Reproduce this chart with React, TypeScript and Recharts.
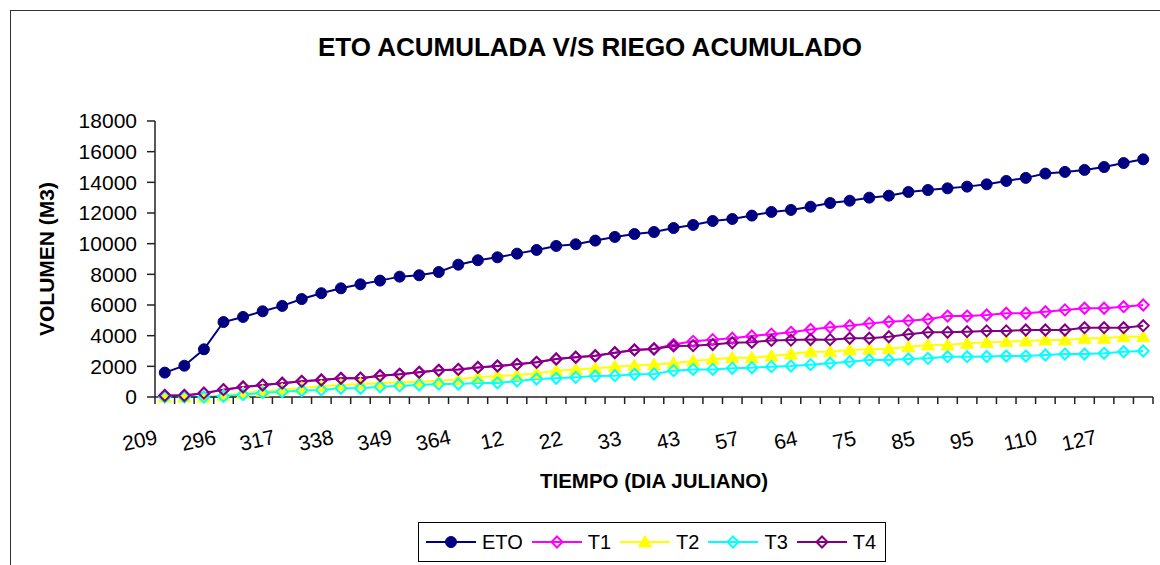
import React from 'react';
import { LineChart, Line, XAxis, YAxis, Legend } from 'recharts';

// ---------- data ----------
const dayLabels = ['209', '296', '317', '338', '349', '364', '12', '22', '33', '43', '57', '64', '75', '85', '95', '110', '127'];
const LABEL_EVERY = 3;

const etoValues = [
  1590, 2040, 3110, 4890, 5220, 5590, 5940, 6390, 6770, 7090,
  7350, 7590, 7850, 7940, 8150, 8630, 8920, 9110, 9350, 9590,
  9850, 9960, 10200, 10440, 10630, 10760, 11020, 11220, 11480, 11610,
  11830, 12070, 12200, 12410, 12650, 12800, 13000, 13130, 13370, 13500,
  13610, 13720, 13870, 14090, 14290, 14570, 14680, 14810, 15000, 15260,
  15500,
];
const t1Values = [
  100, 100, 250, 480, 650, 780, 900, 1020, 1110, 1220,
  1230, 1390, 1480, 1610, 1740, 1800, 1930, 2020, 2130, 2260,
  2480, 2590, 2690, 2890, 3070, 3150, 3420, 3630, 3740, 3830,
  3980, 4100, 4220, 4400, 4550, 4650, 4800, 4910, 4980, 5070,
  5280, 5280, 5350, 5460, 5460, 5560, 5680, 5790, 5790, 5890,
  6000,
];
const t2Values = [
  0, 0, 0, 100, 250, 380, 480, 580, 700, 780,
  850, 890, 960, 1000, 1060, 1150, 1300, 1370, 1430, 1540,
  1720, 1800, 1870, 1980, 2050, 2120, 2200, 2350, 2460, 2560,
  2560, 2670, 2800, 2950, 2950, 3070, 3110, 3150, 3280, 3390,
  3390, 3500, 3570, 3610, 3650, 3720, 3720, 3830, 3830, 3930,
  3930,
];
const t3Values = [
  0, 0, 0, 50, 150, 280, 350, 420, 460, 570,
  570, 670, 720, 780, 850, 850, 920, 920, 1040, 1170,
  1220, 1280, 1370, 1390, 1480, 1500, 1720, 1800, 1800, 1870,
  1910, 1980, 2020, 2110, 2200, 2300, 2410, 2410, 2480, 2520,
  2630, 2630, 2640, 2670, 2670, 2740, 2800, 2800, 2850, 2950,
  3000,
];
const t4Values = [
  100, 100, 250, 480, 650, 780, 900, 1020, 1110, 1220,
  1230, 1390, 1480, 1610, 1740, 1800, 1930, 2020, 2130, 2260,
  2480, 2590, 2690, 2890, 3070, 3130, 3330, 3350, 3420, 3540,
  3570, 3690, 3710, 3750, 3740, 3830, 3830, 3930, 4090, 4220,
  4220, 4260, 4310, 4310, 4370, 4370, 4370, 4520, 4520, 4520,
  4650,
];
const yTicks = [0, 2000, 4000, 6000, 8000, 10000, 12000, 14000, 16000, 18000];

const chartTitle = 'ETO ACUMULADA V/S RIEGO ACUMULADO';
const xTitle = 'TIEMPO (DIA JULIANO)';
const yTitle = 'VOLUMEN (M3)';

// ---------- layout ----------
const W = 1160;
const H = 565;
const PLOT_LEFT = 155;
const PLOT_RIGHT = 1153;
const PLOT_TOP = 121;
const PLOT_BOTTOM = 397;
const Y_AXIS_W = 80;
const X_AXIS_H = 60;
const N = etoValues.length;
const BAND = (PLOT_RIGHT - PLOT_LEFT) / N;
const FONT = '"Liberation Sans", Arial, sans-serif';
const AXIS_COLOR = '#222';

type MarkerKind = 'circle' | 'diamond' | 'triangle';
const series: { key: string; color: string; marker: MarkerKind }[] = [
  { key: 'ETO', color: '#000080', marker: 'circle' },
  { key: 'T1', color: '#FF00FF', marker: 'diamond' },
  { key: 'T2', color: '#FFFF00', marker: 'triangle' },
  { key: 'T3', color: '#00FFFF', marker: 'diamond' },
  { key: 'T4', color: '#800080', marker: 'diamond' },
];

const data = etoValues.map((v, i) => ({
  idx: i,
  ETO: v,
  T1: t1Values[i],
  T2: t2Values[i],
  T3: t3Values[i],
  T4: t4Values[i],
}));

function markerShape(kind: MarkerKind, color: string, cx: number, cy: number, key?: string) {
  if (kind === 'circle') {
    return <circle key={key} cx={cx} cy={cy} r={5.5} fill={color} stroke={color} strokeWidth={1} />;
  }
  if (kind === 'triangle') {
    return (
      <path
        key={key}
        d={`M${cx},${cy - 6.5}L${cx + 6.5},${cy + 5}L${cx - 6.5},${cy + 5}Z`}
        fill={color}
        stroke={color}
        strokeWidth={1}
      />
    );
  }
  const s = 5.5;
  return (
    <path
      key={key}
      d={`M${cx},${cy - s}L${cx + s},${cy}L${cx},${cy + s}L${cx - s},${cy}Z`}
      fill="none"
      stroke={color}
      strokeWidth={2}
    />
  );
}

const XTick = (props: any) => {
  const { x, y, payload } = props;
  const i = Number(payload.value);
  const left = x - BAND / 2;
  const lx = x - 25;
  const ly = y + 43;
  return (
    <g>
      <line x1={left} x2={left} y1={y} y2={y + 7} stroke={AXIS_COLOR} strokeWidth={1.5} />
      {i === N - 1 && (
        <line x1={x + BAND / 2} x2={x + BAND / 2} y1={y} y2={y + 7} stroke={AXIS_COLOR} strokeWidth={1.5} />
      )}
      {i % LABEL_EVERY === 0 && (
        <text
          x={lx}
          y={ly}
          transform={`rotate(-12 ${lx} ${ly})`}
          textAnchor="middle"
          dominantBaseline="central"
          fontSize={21}
          fill="#000"
          fontFamily={FONT}
        >
          {dayLabels[i / LABEL_EVERY]}
        </text>
      )}
    </g>
  );
};

const YTitleLabel = (props: any) => {
  const vb = props.viewBox || {};
  const cx = vb.x - 29;
  const cy = vb.y + vb.height / 2;
  return (
    <text
      x={cx}
      y={cy}
      transform={`rotate(-90 ${cx} ${cy})`}
      textAnchor="middle"
      dominantBaseline="central"
      fontSize={21}
      fontWeight="bold"
      fill="#000"
      fontFamily={FONT}
    >
      {yTitle}
    </text>
  );
};

const XTitleLabel = (props: any) => {
  const vb = props.viewBox || {};
  const cx = vb.x + vb.width / 2;
  const cy = vb.y + 83;
  return (
    <text
      x={cx}
      y={cy}
      textAnchor="middle"
      dominantBaseline="central"
      fontSize={20.5}
      fontWeight="bold"
      fill="#000"
      fontFamily={FONT}
    >
      {xTitle}
    </text>
  );
};

const LegendBox = () => (
  <div
    style={{
      display: 'inline-flex',
      alignItems: 'center',
      border: '1px solid #000',
      height: 40,
      boxSizing: 'border-box',
      padding: '0 9px 0 7px',
      background: '#fff',
      fontFamily: FONT,
    }}
  >
    {series.map((s, i) => (
      <div key={s.key} style={{ display: 'flex', alignItems: 'center', marginLeft: i ? 9 : 0 }}>
        <svg width={50} height={16} style={{ display: 'block' }}>
          <line x1={0} x2={50} y1={8} y2={8} stroke={s.color} strokeWidth={2} />
          {markerShape(s.marker, s.color, 25, 8)}
        </svg>
        <span style={{ marginLeft: 6, fontSize: 20, lineHeight: '20px', color: '#000' }}>{s.key}</span>
      </div>
    ))}
  </div>
);

export default function App() {
  return (
    <div
      style={{
        position: 'absolute',
        left: 0,
        top: 0,
        width: W,
        height: H,
        overflow: 'hidden',
        background: '#fff',
        fontFamily: FONT,
      }}
    >
      <div
        style={{
          position: 'absolute',
          left: 10,
          top: 10,
          width: 1300,
          height: 700,
          borderLeft: '1.5px solid #333',
          borderTop: '1.5px solid #333',
        }}
      />
      <div
        style={{
          position: 'absolute',
          left: 0,
          top: 34,
          width: 1180,
          textAlign: 'center',
          fontSize: 26,
          lineHeight: '26px',
          fontWeight: 'bold',
          color: '#000',
          fontFamily: FONT,
        }}
      >
        {chartTitle}
      </div>
      <div style={{ position: 'absolute', left: 0, top: 0 }}>
        <LineChart
          width={W}
          height={H}
          data={data}
          margin={{
            top: PLOT_TOP,
            right: W - PLOT_RIGHT,
            bottom: H - PLOT_BOTTOM - X_AXIS_H,
            left: PLOT_LEFT - Y_AXIS_W,
          }}
          style={{ fontFamily: FONT }}
        >
          <XAxis
            dataKey="idx"
            type="category"
            height={X_AXIS_H}
            interval={0}
            tickSize={0}
            tickMargin={0}
            tickLine={false}
            tick={<XTick />}
            axisLine={{ stroke: AXIS_COLOR, strokeWidth: 1.5 }}
            padding={{ left: BAND / 2, right: BAND / 2 }}
            label={<XTitleLabel />}
          />
          <XAxis
            xAxisId="top"
            orientation="top"
            dataKey="idx"
            type="category"
            height={0}
            tick={false}
            tickLine={false}
            axisLine={{ stroke: '#808080', strokeWidth: 1.5 }}
            padding={{ left: BAND / 2, right: BAND / 2 }}
          />
          <YAxis
            width={Y_AXIS_W}
            domain={[0, 18000]}
            ticks={yTicks}
            interval={0}
            tickSize={8}
            tickMargin={10}
            tick={{ fontSize: 21, fill: '#000', fontFamily: FONT }}
            tickLine={{ stroke: AXIS_COLOR, strokeWidth: 1.5 }}
            axisLine={{ stroke: AXIS_COLOR, strokeWidth: 1.5 }}
            label={<YTitleLabel />}
          />
          <YAxis
            yAxisId="right"
            orientation="right"
            width={0}
            domain={[0, 18000]}
            tick={false}
            tickLine={false}
            axisLine={{ stroke: '#808080', strokeWidth: 1.5 }}
          />
          <Legend
            layout="horizontal"
            verticalAlign="middle"
            align="center"
            content={<LegendBox />}
            wrapperStyle={{ left: 418, top: 522, width: 475, height: 40 }}
          />
          {series.map((s) => (
            <Line
              key={s.key}
              type="linear"
              dataKey={s.key}
              stroke={s.color}
              strokeWidth={2}
              isAnimationActive={false}
              dot={(p: any) => markerShape(s.marker, s.color, p.cx, p.cy, `${s.key}-${p.index}`)}
              activeDot={false}
            />
          ))}
        </LineChart>
      </div>
    </div>
  );
}
